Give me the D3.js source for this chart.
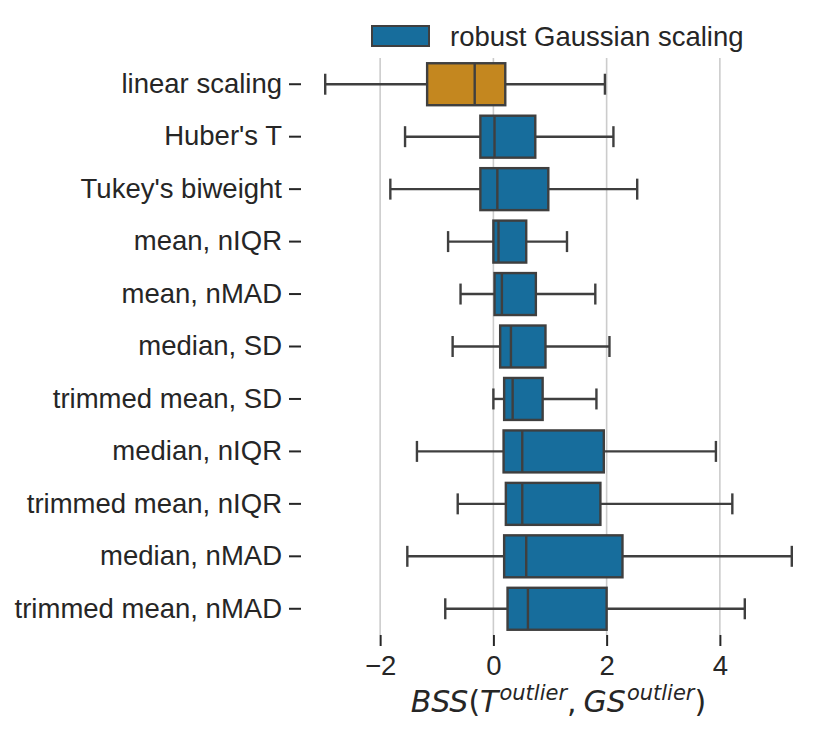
<!DOCTYPE html>
<html>
<head>
<meta charset="utf-8">
<script src="https://cdn.jsdelivr.net/npm/d3@7"></script>
<style>
  body { margin: 0; background: #fff; }
  text { font-family: "Liberation Sans", Arial, sans-serif; fill: #262626; }
</style>
</head>
<body>
<div id="main-container"></div>
<script>
// DATA
const methods = ["linear scaling", "Huber's T", "Tukey's biweight", "mean, nIQR", "mean, nMAD",
    "median, SD", "trimmed mean, SD", "median, nIQR", "trimmed mean, nIQR", "median, nMAD",
    "trimmed mean, nMAD"];
const whiskerLow = [-2.97, -1.56, -1.82, -0.80, -0.58, -0.72, 0.00, -1.35, -0.63, -1.52, -0.85];
const q1 = [-1.17, -0.23, -0.23, 0.00, 0.02, 0.12, 0.19, 0.18, 0.22, 0.19, 0.25];
const medians = [-0.33, 0.02, 0.07, 0.09, 0.15, 0.31, 0.34, 0.51, 0.51, 0.58, 0.61];
const q3 = [0.21, 0.74, 0.97, 0.58, 0.75, 0.92, 0.87, 1.95, 1.89, 2.28, 2.00];
const whiskerHigh = [1.97, 2.12, 2.54, 1.30, 1.80, 2.05, 1.82, 3.93, 4.22, 5.27, 4.44];
const groups = ["linear", "robust", "robust", "robust", "robust", "robust", "robust", "robust",
    "robust", "robust", "robust"];
const xTicks = [-2, 0, 2, 4];
const legendLabel = "robust Gaussian scaling";

const colours = {linear: "#c4871f", robust: "#176d9c"};
const edge = "#3f3f3f";

const width = 830, height = 734;
const plot = {left: 302, right: 815, top: 58, bottom: 635};

const data = methods.map((m, i) => ({
    name: m, lo: whiskerLow[i], q1: q1[i], med: medians[i], q3: q3[i], hi: whiskerHigh[i], group: groups[i]
}));

let svg = d3.select("#main-container")
    .append("svg")
        .attr("width", width)
        .attr("height", height);

let xAxis = d3.scaleLinear()
    .domain([-3.38, 5.68])
    .range([plot.left, plot.right]);

let yAxis = d3.scaleBand()
    .domain(methods)
    .range([plot.top, plot.bottom])
    .padding(0);

// grid
svg.append("g")
    .selectAll("line")
    .data(xTicks)
    .enter()
    .append("line")
        .attr("x1", d => xAxis(d))
        .attr("x2", d => xAxis(d))
        .attr("y1", plot.top)
        .attr("y2", plot.bottom)
        .attr("stroke", "#cccccc")
        .attr("stroke-width", 1.6);

// axes
let gx = svg.append("g")
    .attr("transform", `translate(0, ${plot.bottom})`)
    .call(d3.axisBottom(xAxis).tickValues(xTicks).tickSize(11).tickPadding(9)
        .tickFormat(d => d < 0 ? "\u2212" + Math.abs(d) : d));
let gy = svg.append("g")
    .attr("transform", `translate(${plot.left - 1}, 0)`)
    .call(d3.axisLeft(yAxis).tickSize(12).tickPadding(7));

[gx, gy].forEach(g => {
    g.select(".domain").remove();
    g.selectAll(".tick line").attr("stroke", "#262626").attr("stroke-width", 2);
    g.selectAll(".tick text")
        .attr("fill", "#262626")
        .style("font-family", '"Liberation Sans", Arial, sans-serif')
        .style("font-size", "27.5px");
});

// boxes
const boxH = yAxis.bandwidth() * 0.8;
let boxes = svg.append("g")
    .selectAll("g")
    .data(data)
    .enter()
    .append("g")
        .attr("transform", d => `translate(0, ${yAxis(d.name) + yAxis.bandwidth() / 2})`);

boxes.append("line")
    .attr("x1", d => xAxis(d.lo)).attr("x2", d => xAxis(d.q1))
    .attr("stroke", edge).attr("stroke-width", 2.4);
boxes.append("line")
    .attr("x1", d => xAxis(d.q3)).attr("x2", d => xAxis(d.hi))
    .attr("stroke", edge).attr("stroke-width", 2.4);
boxes.selectAll(".cap")
    .data(d => [d.lo, d.hi])
    .enter()
    .append("line")
        .attr("x1", v => xAxis(v)).attr("x2", v => xAxis(v))
        .attr("y1", -boxH / 4).attr("y2", boxH / 4)
        .attr("stroke", edge).attr("stroke-width", 2.4);
boxes.append("rect")
    .attr("x", d => xAxis(d.q1))
    .attr("y", -boxH / 2)
    .attr("width", d => xAxis(d.q3) - xAxis(d.q1))
    .attr("height", boxH)
    .attr("fill", d => colours[d.group])
    .attr("stroke", edge).attr("stroke-width", 2.4);
boxes.append("line")
    .attr("x1", d => xAxis(d.med)).attr("x2", d => xAxis(d.med))
    .attr("y1", -boxH / 2).attr("y2", boxH / 2)
    .attr("stroke", edge).attr("stroke-width", 2.4);

// x label, mathtext style
let label = svg.append("text")
    .attr("x", (plot.left + plot.right) / 2)
    .attr("y", 712)
    .attr("text-anchor", "middle")
    .style("font-family", '"DejaVu Sans", sans-serif')
    .style("font-size", "30px");
label.append("tspan").style("font-style", "italic").text("BSS");
label.append("tspan").text("(");
label.append("tspan").style("font-style", "italic").text("T");
label.append("tspan").style("font-style", "italic").style("font-size", "21px").attr("dx", 1).attr("dy", -12).text("outlier");
label.append("tspan").attr("dy", 12).text(",");
label.append("tspan").style("font-style", "italic").attr("dx", 7).text("GS");
label.append("tspan").style("font-style", "italic").style("font-size", "21px").attr("dx", 1).attr("dy", -12).text("outlier");
label.append("tspan").attr("dy", 12).text(")");

// legend
let legend = svg.append("g");
legend.append("rect")
    .attr("x", 372).attr("y", 26)
    .attr("width", 57).attr("height", 20)
    .attr("fill", colours.robust)
    .attr("stroke", edge).attr("stroke-width", 2);
legend.append("text")
    .attr("x", 450).attr("y", 46)
    .style("font-size", "27.5px")
    .text(legendLabel);
</script>
</body>
</html>
